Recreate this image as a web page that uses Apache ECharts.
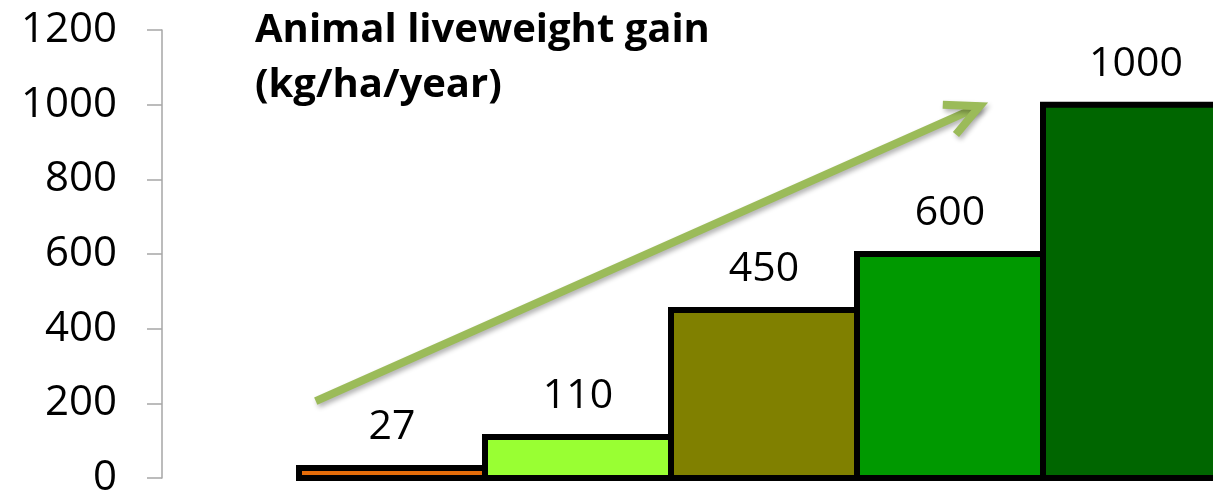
<!DOCTYPE html>
<html>
<head>
<meta charset="utf-8">
<script src="https://cdn.jsdelivr.net/npm/echarts@6/dist/echarts.min.js"></script>
<style>
  html, body { margin: 0; padding: 0; background: #ffffff; }
  #chart { width: 1213px; height: 492px; }
</style>
</head>
<body>
<div id="chart"></div>
<script>
// Liveweight gain per production system (kg/ha/year)
const categories = ['A', 'B', 'C', 'D', 'E'];
const gainValues = [27, 110, 450, 600, 1000];
const barColors = ['#E46C0A', '#99FF33', '#808000', '#009900', '#006600'];
const yTicks = [0, 200, 400, 600, 800, 1000, 1200];
// Trend arrow: [x, y] tail and head, x in bar-width units across the bar area
const arrowTail = [0.09, 206];
const arrowHead = [3.66, 996];

const FONT = '"Open Sans", "Noto Sans", sans-serif';
const chart = echarts.init(document.getElementById('chart'), null, { renderer: 'canvas' });

// Step-style bars: touching columns with a black outline centred on each edge
function renderStepBar(params, api) {
  const idx = api.value(0);
  const val = api.value(1);
  const top = api.coord([idx, val]);
  const base = api.coord([idx, 0]);
  const w = api.size([1, 0])[0];
  return {
    type: 'rect',
    shape: { x: top[0] - w / 2, y: top[1], width: w, height: base[1] - top[1] },
    style: { fill: barColors[idx], stroke: '#000000', lineWidth: 6, lineJoin: 'miter' },
    textContent: {
      style: { text: String(val), fontFamily: FONT, fontSize: 41, fill: '#000000' }
    },
    textConfig: { position: 'top', distance: 17 }
  };
}

function renderArrow(params, api) {
  const p0 = api.coord([api.value(0), api.value(1)]);
  const p1 = api.coord([api.value(2), api.value(3)]);
  const ang = Math.atan2(p1[1] - p0[1], p1[0] - p0[0]);
  const len = 37;
  const spread = 26 * Math.PI / 180;
  const a1 = [p1[0] - len * Math.cos(ang - spread), p1[1] - len * Math.sin(ang - spread)];
  const a2 = [p1[0] - len * Math.cos(ang + spread), p1[1] - len * Math.sin(ang + spread)];
  const stroke = {
    stroke: '#9BBB59', lineWidth: 8, fill: null,
    shadowBlur: 5, shadowOffsetX: 2, shadowOffsetY: 3, shadowColor: 'rgba(0,0,0,0.3)'
  };
  return {
    type: 'group',
    children: [
      { type: 'polyline', shape: { points: [p0, p1] }, style: Object.assign({ lineCap: 'butt' }, stroke) },
      { type: 'polyline', shape: { points: [a1, p1, a2] }, style: Object.assign({ lineJoin: 'miter', lineCap: 'butt' }, stroke) }
    ]
  };
}

const option = {
  backgroundColor: '#ffffff',
  animation: false,
  title: {
    text: 'Animal liveweight gain\n(kg/ha/year)',
    left: 250,
    top: -2,
    textStyle: {
      fontFamily: FONT,
      fontSize: 40,
      fontWeight: 'bold',
      color: '#000000',
      lineHeight: 55
    }
  },
  grid: [
    { left: 162, top: 30, bottom: 14, width: 1, outerBoundsMode: 'none', containLabel: false },
    { left: 299, top: 30, bottom: 14, width: 930, outerBoundsMode: 'none', containLabel: false }
  ],
  xAxis: [
    { type: 'value', gridIndex: 0, show: false },
    { type: 'category', gridIndex: 1, data: categories, show: false },
    { type: 'value', gridIndex: 1, min: 0, max: 5, show: false }
  ],
  yAxis: [
    {
      type: 'value', gridIndex: 0, min: yTicks[0], max: yTicks[yTicks.length - 1], interval: 200,
      axisLine: { show: true, lineStyle: { color: '#A6A6A6', width: 1.5 } },
      axisTick: { show: true, length: 15, lineStyle: { color: '#A6A6A6', width: 1.5 } },
      splitLine: { show: false },
      axisLabel: {
        margin: 45, fontFamily: FONT, fontSize: 42, color: '#000000',
        formatter: (v) => String(v)
      }
    },
    { type: 'value', gridIndex: 1, min: 0, max: 1200, show: false }
  ],
  series: [
    {
      type: 'custom',
      xAxisIndex: 1,
      yAxisIndex: 1,
      data: gainValues.map((v, i) => [i, v]),
      encode: { x: 0, y: 1 },
      clip: false,
      z: 2,
      renderItem: renderStepBar
    },
    {
      type: 'custom',
      xAxisIndex: 2,
      yAxisIndex: 1,
      data: [[arrowTail[0], arrowTail[1], arrowHead[0], arrowHead[1]]],
      encode: { x: [0, 2], y: [1, 3] },
      clip: false,
      z: 5,
      renderItem: renderArrow
    }
  ]
};

chart.setOption(option);
</script>
</body>
</html>
